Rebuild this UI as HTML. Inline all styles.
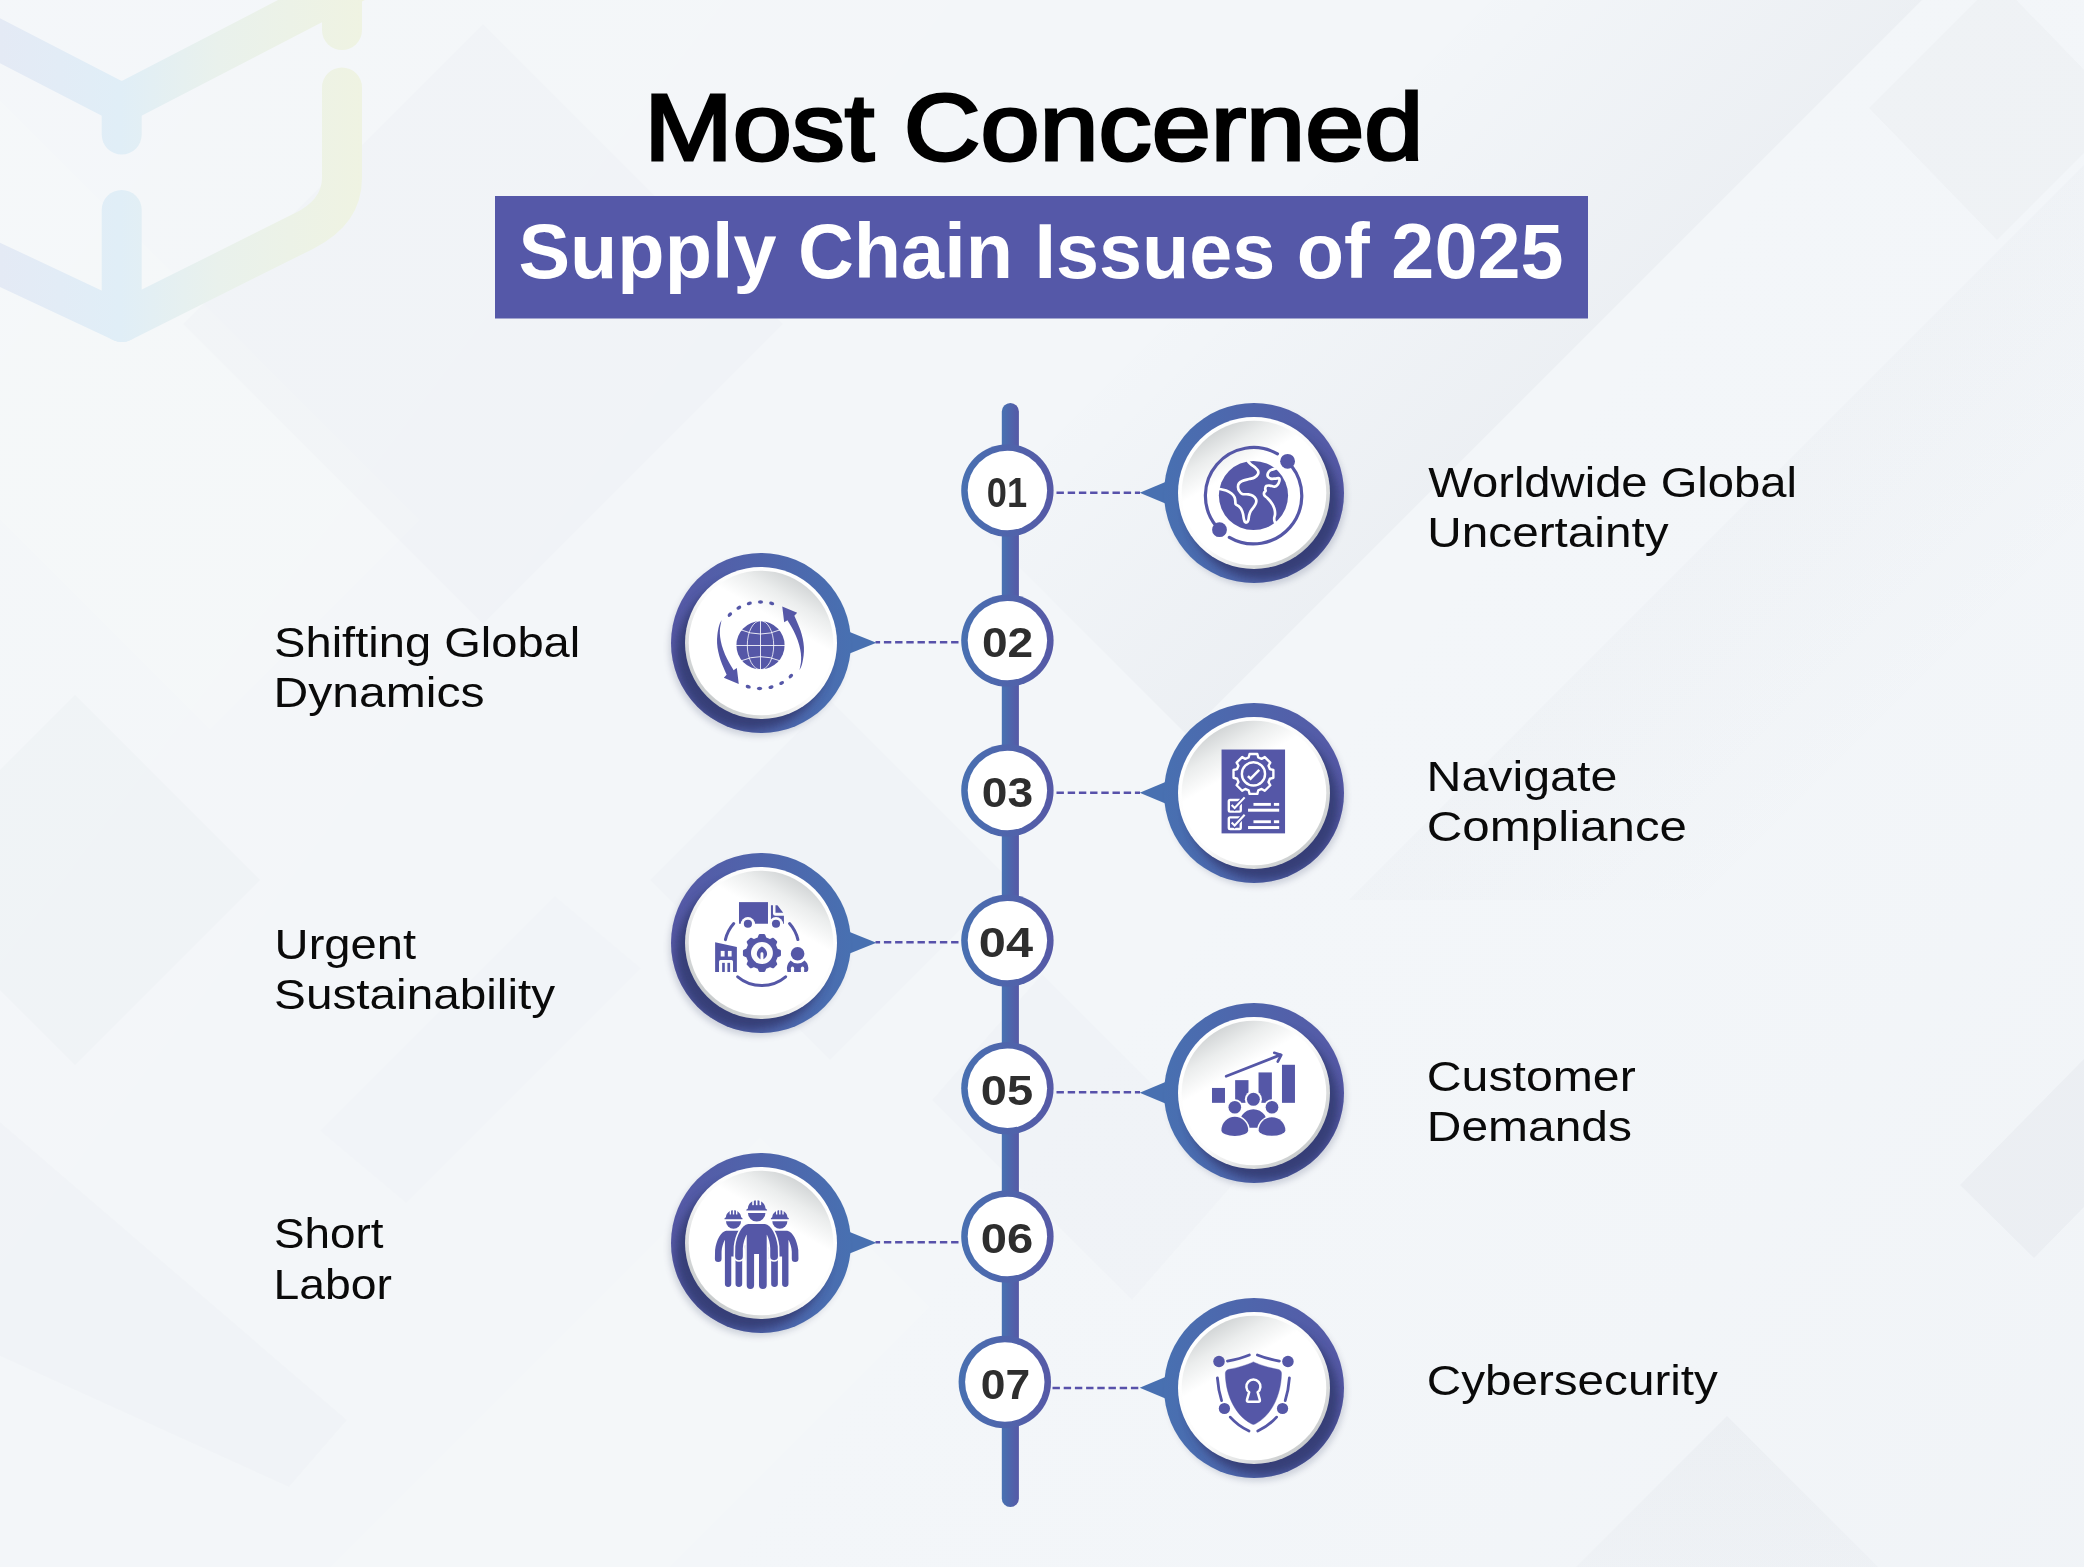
<!DOCTYPE html>
<html lang="en"><head><meta charset="utf-8">
<title>Most Concerned Supply Chain Issues of 2025</title>
<style>
html,body{margin:0;padding:0;}
body{width:2084px;height:1567px;overflow:hidden;background:#f3f6f9;font-family:"Liberation Sans",sans-serif;}
svg{display:block;position:absolute;left:0;top:0;will-change:transform;}
text{font-family:"Liberation Sans",sans-serif;}
.lbl{font-size:43px;fill:#0a0a0a;}
.num{font-size:42.6px;font-weight:bold;fill:#2e2e2e;}
</style></head><body>
<svg width="2084" height="1567" viewBox="0 0 2084 1567">
<defs>
<linearGradient id="gR" x1="0" y1="0" x2="1" y2="0"><stop offset="0" stop-color="#4870b1"/><stop offset="1" stop-color="#5659a6"/></linearGradient>
<linearGradient id="gL" x1="0" y1="0" x2="1" y2="0"><stop offset="0" stop-color="#5659a6"/><stop offset="1" stop-color="#4870b1"/></linearGradient>
<linearGradient id="gLine" x1="0" y1="0" x2="1" y2="0"><stop offset="0" stop-color="#4772b2"/><stop offset="1" stop-color="#5659a6"/></linearGradient>
<linearGradient id="rimR" x1="0.15" y1="0.15" x2="0.85" y2="0.85"><stop offset="0" stop-color="#ffffff"/><stop offset="0.55" stop-color="#fbfbfb"/><stop offset="1" stop-color="#c9cccd"/></linearGradient>
<linearGradient id="rimL" x1="0.85" y1="0.15" x2="0.15" y2="0.85"><stop offset="0" stop-color="#ffffff"/><stop offset="0.55" stop-color="#fbfbfb"/><stop offset="1" stop-color="#c9cccd"/></linearGradient>
<linearGradient id="faceR" x1="0.25" y1="0.067" x2="0.405" y2="0.335"><stop offset="0" stop-color="#d3d6d7"/><stop offset="0.45" stop-color="#ebeded"/><stop offset="1" stop-color="#ffffff"/></linearGradient>
<linearGradient id="faceL" x1="0.75" y1="0.067" x2="0.595" y2="0.335"><stop offset="0" stop-color="#d3d6d7"/><stop offset="0.45" stop-color="#ebeded"/><stop offset="1" stop-color="#ffffff"/></linearGradient>
<linearGradient id="wm" gradientUnits="userSpaceOnUse" x1="0" y1="0" x2="362" y2="0"><stop offset="0" stop-color="#e4eaf5"/><stop offset="0.33" stop-color="#e0eef7"/><stop offset="0.6" stop-color="#e9f1ec"/><stop offset="1" stop-color="#eff3e2"/></linearGradient>
<filter id="blur" x="-30%" y="-30%" width="160%" height="160%"><feGaussianBlur stdDeviation="5"/></filter>
<filter id="blurS" x="-30%" y="-30%" width="160%" height="160%"><feGaussianBlur stdDeviation="3"/></filter>
<filter id="soft" x="-10%" y="-10%" width="120%" height="120%"><feGaussianBlur stdDeviation="6"/></filter>
<clipPath id="clipO"><circle cx="0" cy="0" r="90"/></clipPath>
</defs>

<g id="bg">
<rect width="2084" height="1567" fill="#f3f6f9"/>
<defs>
<linearGradient id="bgA" gradientUnits="userSpaceOnUse" x1="1511" y1="411" x2="1281" y2="181"><stop offset="0" stop-color="#1c2a4a" stop-opacity="0.032"/><stop offset="1" stop-color="#1c2a4a" stop-opacity="0"/></linearGradient>
<linearGradient id="bgB" gradientUnits="userSpaceOnUse" x1="1790" y1="460" x2="1990" y2="660"><stop offset="0" stop-color="#1c2a4a" stop-opacity="0.016"/><stop offset="1" stop-color="#1c2a4a" stop-opacity="0"/></linearGradient>
<linearGradient id="bgC" gradientUnits="userSpaceOnUse" x1="1727" y1="1416" x2="1727" y2="1640"><stop offset="0" stop-color="#1c2a4a" stop-opacity="0.028"/><stop offset="1" stop-color="#1c2a4a" stop-opacity="0.01"/></linearGradient>
<linearGradient id="bgD" gradientUnits="userSpaceOnUse" x1="0" y1="0" x2="2084" y2="1567"><stop offset="0" stop-color="#ffffff" stop-opacity="0.10"/><stop offset="0.5" stop-color="#ffffff" stop-opacity="0"/><stop offset="1" stop-color="#1c2a4a" stop-opacity="0.012"/></linearGradient>
</defs>
<rect width="2084" height="1567" fill="url(#bgD)"/>
<polygon points="1922,0 1187,735 887,435 1322,0" fill="url(#bgA)"/>
<polygon points="2084,165 2084,900 1349,900" fill="url(#bgB)"/>
<polygon points="1960,1185 2084,1059 2084,1207 2034,1258" fill="#1c2a4a" fill-opacity="0.026"/>
<polygon points="1727,1416 1878,1567 1576,1567" fill="url(#bgC)"/>
<polygon points="-110,880 75,695 260,880 75,1065" fill="#1c2a4a" fill-opacity="0.015"/>
<polygon points="1042,974 1242,1174 1132,1300 932,1100" fill="#1c2a4a" fill-opacity="0.011"/>
<polygon points="830,700 1010,880 830,1060 650,880" fill="#1c2a4a" fill-opacity="0.011"/>
<polygon points="0,100 420,520 210,730 0,520" fill="#ffffff" fill-opacity="0.13"/>
<polygon points="330,1567 760,1137 930,1307 670,1567" fill="#ffffff" fill-opacity="0.12"/>
<polygon points="483,624 183,324 483,24 783,324" fill="#1c2a4a" fill-opacity="0.010"/>
<polygon points="0,1122 347,1420 289,1487 0,1356" fill="#1c2a4a" fill-opacity="0.010"/>
<polygon points="555,896 641,968 406,1203 320,1131" fill="#1c2a4a" fill-opacity="0.009"/>
<polygon points="1869,108 1997,240 2125,112 1997,-20" fill="#1c2a4a" fill-opacity="0.018"/>

</g>
<g id="wmark" fill="none" stroke="url(#wm)" stroke-width="40" stroke-linecap="round" stroke-linejoin="round">
<path d="M-40 20 L112 98.5 Q121.7 103.5 131.4 98.5 L360 -20"/>
<path d="M121.7 103 L121.7 134.5"/>
<path d="M121.7 210 L121.7 322"/>
<path d="M-40 246 L121.7 322 L304 231 Q342 212 342 178 L342 87.5"/>
<path d="M342 -30 L342 30"/>
</g>
<text font-size="94" fill="#000" stroke="#000" stroke-width="2.9" stroke-linejoin="miter" x="644.28" y="159.8" textLength="779.01" lengthAdjust="spacingAndGlyphs">Most Concerned</text>
<rect x="495" y="196" width="1093" height="122.5" fill="#5558a8"/>
<text font-size="78.5" font-weight="bold" fill="#fff" x="518.49" y="277.5" textLength="1045.03" lengthAdjust="spacingAndGlyphs">Supply Chain Issues of 2025</text>
<rect x="1001.8" y="403" width="17.1" height="1104" rx="8.55" fill="url(#gLine)"/>
<circle cx="1007.4" cy="490.45" r="46.2" fill="url(#gR)"/><circle cx="1007.4" cy="490.45" r="39.7" fill="#fff"/>
<text class="num" x="986.84" y="507.0" textLength="40.34" lengthAdjust="spacingAndGlyphs">01</text>
<circle cx="1007.4" cy="640.6" r="46.2" fill="url(#gR)"/><circle cx="1007.4" cy="640.6" r="39.7" fill="#fff"/>
<text class="num" x="981.91" y="657.0" textLength="51.29" lengthAdjust="spacingAndGlyphs">02</text>
<circle cx="1007.4" cy="790.45" r="46.2" fill="url(#gR)"/><circle cx="1007.4" cy="790.45" r="39.7" fill="#fff"/>
<text class="num" x="981.86" y="807.0" textLength="51.32" lengthAdjust="spacingAndGlyphs">03</text>
<circle cx="1007.4" cy="940.6" r="46.2" fill="url(#gR)"/><circle cx="1007.4" cy="940.6" r="39.7" fill="#fff"/>
<text class="num" x="978.84" y="957.0" textLength="54.21" lengthAdjust="spacingAndGlyphs">04</text>
<circle cx="1007.4" cy="1088.3" r="46.2" fill="url(#gR)"/><circle cx="1007.4" cy="1088.3" r="39.7" fill="#fff"/>
<text class="num" x="980.81" y="1105.2" textLength="52.34" lengthAdjust="spacingAndGlyphs">05</text>
<circle cx="1007.4" cy="1236.5" r="46.2" fill="url(#gR)"/><circle cx="1007.4" cy="1236.5" r="39.7" fill="#fff"/>
<text class="num" x="980.78" y="1253.0" textLength="52.44" lengthAdjust="spacingAndGlyphs">06</text>
<circle cx="1004.8" cy="1382" r="46.2" fill="url(#gR)"/><circle cx="1004.8" cy="1382" r="39.7" fill="#fff"/>
<text class="num" x="980.85" y="1399.0" textLength="49.39" lengthAdjust="spacingAndGlyphs">07</text>
<path d="M1056.5 492.8 H1140" stroke="#5751aa" stroke-width="2.5" stroke-dasharray="7.4 3.8" stroke-linecap="butt" fill="none"/>
<g transform="translate(1254 493)">
<path d="M-114.3 -0.2 L-88 -11.3 L-88 10.8 Z" fill="#4870b1"/>
<circle cx="3" cy="4.5" r="89" fill="#4b5275" opacity="0.22" filter="url(#blurS)"/>
<circle r="90" fill="url(#gR)"/>
<g clip-path="url(#clipO)"><circle cx="9" cy="11" r="76" fill="#363d74" opacity="0.95" filter="url(#blur)"/></g>
<circle r="76" fill="url(#rimR)"/>
<circle r="72.3" fill="url(#faceR)"/>
<g class="ic-globe">
<circle cx="-0.54" cy="2.5" r="34.6" fill="#5557a7"/>
<path d="M-34.35 -4.01 C-33.26 -3.76 -29.82 -3.25 -27.84 -2.48 C-25.86 -1.72 -23.88 -0.57 -22.48 0.58 C-21.07 1.73 -20.05 3.07 -19.41 4.41 C-18.78 5.75 -18.84 7.47 -18.65 8.62 C-18.46 9.77 -18.84 10.54 -18.26 11.3 C-17.69 12.07 -16.09 12.45 -15.2 13.22 C-14.31 13.98 -13.61 14.62 -12.9 15.9 C-12.2 17.17 -11.44 19.28 -10.99 20.88 C-10.54 22.47 -10.54 24.13 -10.22 25.47 C-9.9 26.81 -9.59 28.28 -9.07 28.92 C-8.56 29.56 -7.73 29.62 -7.16 29.3 C-6.59 28.98 -6.01 28.15 -5.63 27 C-5.25 25.85 -5.25 23.88 -4.86 22.41 C-4.48 20.94 -4.1 19.6 -3.33 18.2 C-2.57 16.79 -1.16 15.39 -0.27 13.98 C0.63 12.58 1.65 11.05 2.03 9.77 C2.41 8.5 2.54 7.47 2.03 6.33 C1.52 5.18 0.24 3.71 -1.03 2.88 C-2.31 2.05 -3.84 1.67 -5.63 1.35 C-7.42 1.03 -10.22 1.54 -11.76 0.96 C-13.29 0.39 -14.12 -0.95 -14.82 -2.1 C-15.52 -3.25 -15.9 -4.71 -15.97 -5.93 C-16.03 -7.14 -15.9 -8.35 -15.2 -9.37 C-14.5 -10.39 -13.48 -11.29 -11.76 -12.05 C-10.03 -12.82 -6.91 -13.39 -4.86 -13.97 C-2.82 -14.54 -0.97 -14.67 0.5 -15.5 C1.97 -16.33 3.37 -17.8 3.94 -18.95 C4.52 -20.09 4.39 -21.31 3.94 -22.39 C3.5 -23.48 2.41 -24.43 1.26 -25.46 C0.11 -26.48 -1.74 -27.5 -2.95 -28.52 C-4.16 -29.54 -5.5 -31.07 -6.01 -31.58" fill="none" stroke="#fff" stroke-width="2.7" stroke-linecap="round" stroke-linejoin="round"/>
<path d="M21.56 -24.46 C20.73 -24.18 17.86 -23.57 16.58 -22.78 C15.3 -21.98 14.35 -20.8 13.9 -19.71 C13.45 -18.63 13.45 -17.16 13.9 -16.27 C14.35 -15.37 15.37 -14.67 16.58 -14.35 C17.79 -14.03 19.77 -14.29 21.17 -14.35 C22.58 -14.42 24.3 -15.12 25 -14.73 C25.71 -14.35 25.64 -13.14 25.39 -12.05 C25.13 -10.97 24.3 -9.18 23.47 -8.22 C22.64 -7.27 21.69 -6.44 20.41 -6.31 C19.13 -6.18 17.15 -7.33 15.81 -7.46 C14.47 -7.59 13.13 -7.59 12.37 -7.08 C11.6 -6.57 11.35 -5.23 11.22 -4.4 C11.09 -3.57 11.79 -2.8 11.6 -2.1 C11.41 -1.4 10.26 -0.95 10.07 -0.18 C9.88 0.58 9.88 1.6 10.45 2.5 C11.03 3.39 12.5 4.16 13.52 5.18 C14.54 6.2 15.62 7.35 16.58 8.62 C17.54 9.9 18.56 11.37 19.26 12.84 C19.96 14.3 20.5 15.96 20.79 17.43 C21.09 18.9 21.11 20.43 21.02 21.64 C20.93 22.85 20.36 23.68 20.26 24.71 C20.15 25.73 20.23 26.87 20.41 27.77 C20.59 28.66 21.17 29.68 21.33 30.07" fill="none" stroke="#fff" stroke-width="2.7" stroke-linecap="round" stroke-linejoin="round"/>
<path d="M37.56 -26.97 A48.2 48.2 0 0 1 -24.67 44.36" fill="none" stroke="#5557a7" stroke-width="3.2" stroke-linecap="round"/>
<path d="M-37.88 33.03 A48.2 48.2 0 0 1 23.46 -39.17" fill="none" stroke="#5557a7" stroke-width="3.2" stroke-linecap="round"/>
<circle cx="33.6" cy="-31.7" r="7.4" fill="#5557a7"/><circle cx="-34.5" cy="36.7" r="7.4" fill="#5557a7"/>
</g>
</g>
<path d="M1056.5 792.7 H1140" stroke="#5751aa" stroke-width="2.5" stroke-dasharray="7.4 3.8" stroke-linecap="butt" fill="none"/>
<g transform="translate(1254 793)">
<path d="M-114.3 -0.2 L-88 -11.3 L-88 10.8 Z" fill="#4870b1"/>
<circle cx="3" cy="4.5" r="89" fill="#4b5275" opacity="0.22" filter="url(#blurS)"/>
<circle r="90" fill="url(#gR)"/>
<g clip-path="url(#clipO)"><circle cx="9" cy="11" r="76" fill="#363d74" opacity="0.95" filter="url(#blur)"/></g>
<circle r="76" fill="url(#rimR)"/>
<circle r="72.3" fill="url(#faceR)"/>
<g class="ic-doc">
<rect x="-32.45" y="-43.47" width="63.5" height="83.85" fill="#5557a7"/>
<path d="M-5.4 -35.49 L-4.42 -39.02 L3.33 -39.02 L4.31 -35.49 L7.62 -34.12 L10.81 -35.92 L16.29 -30.45 L14.49 -27.25 L15.85 -23.95 L19.38 -22.97 L19.38 -15.22 L15.85 -14.24 L14.49 -10.93 L16.29 -7.74 L10.81 -2.26 L7.62 -4.07 L4.31 -2.7 L3.33 0.83 L-4.42 0.83 L-5.4 -2.7 L-8.7 -4.07 L-11.89 -2.26 L-17.37 -7.74 L-15.57 -10.93 L-16.94 -14.24 L-20.47 -15.22 L-20.47 -22.97 L-16.94 -23.95 L-15.57 -27.25 L-17.37 -30.45 L-11.89 -35.92 L-8.7 -34.12 Z" fill="none" stroke="#fff" stroke-width="2.4" stroke-linejoin="round"/>
<circle cx="-0.54" cy="-19.09" r="11.6" fill="none" stroke="#fff" stroke-width="2.4"/>
<path d="M-6.09 -16.99 L-3.41 -14.31 L5.26 -23.11" fill="none" stroke="#fff" stroke-width="2.5"/>
<rect x="-25.18" y="7.01" width="11.93" height="11.61" rx="1.3" fill="none" stroke="#fff" stroke-width="2.4"/><path d="M-22.37 12.05 L-19.37 15.05 L-9.35 4.39" fill="none" stroke="#5557a7" stroke-width="4.6"/><path d="M-22.37 12.05 L-19.37 15.05 L-9.35 4.39" fill="none" stroke="#fff" stroke-width="2.1"/><rect x="-0.54" y="9.94" width="17.42" height="2.87" fill="#fff"/><rect x="19.88" y="9.94" width="5.3" height="2.87" fill="#fff"/><rect x="-5.97" y="15.69" width="31.14" height="3" fill="#fff"/>
<rect x="-25.18" y="24.37" width="11.93" height="11.61" rx="1.3" fill="none" stroke="#fff" stroke-width="2.4"/><path d="M-22.37 29.41 L-19.37 32.41 L-9.35 21.75" fill="none" stroke="#5557a7" stroke-width="4.6"/><path d="M-22.37 29.41 L-19.37 32.41 L-9.35 21.75" fill="none" stroke="#fff" stroke-width="2.1"/><rect x="-0.54" y="27.3" width="17.42" height="2.87" fill="#fff"/><rect x="19.88" y="27.3" width="5.3" height="2.87" fill="#fff"/><rect x="-5.97" y="33.04" width="31.14" height="3" fill="#fff"/>
</g>
</g>
<path d="M1056.5 1092.3 H1140" stroke="#5751aa" stroke-width="2.5" stroke-dasharray="7.4 3.8" stroke-linecap="butt" fill="none"/>
<g transform="translate(1254 1093)">
<path d="M-114.3 -0.2 L-88 -11.3 L-88 10.8 Z" fill="#4870b1"/>
<circle cx="3" cy="4.5" r="89" fill="#4b5275" opacity="0.22" filter="url(#blurS)"/>
<circle r="90" fill="url(#gR)"/>
<g clip-path="url(#clipO)"><circle cx="9" cy="11" r="76" fill="#363d74" opacity="0.95" filter="url(#blur)"/></g>
<circle r="76" fill="url(#rimR)"/>
<circle r="72.3" fill="url(#faceR)"/>
<g class="ic-chart">
<rect x="-42.01" y="-5.05" width="12.99" height="14.88" fill="#5557a7"/>
<rect x="-18.85" y="-12.85" width="13.34" height="22.67" fill="#5557a7"/>
<rect x="4.53" y="-20.57" width="13.34" height="30.4" fill="#5557a7"/>
<rect x="27.97" y="-28.22" width="12.99" height="38.05" fill="#5557a7"/>
<circle cx="-0.6" cy="6.32" r="8.56" fill="#fdfdfd"/>
<circle cx="-19.2" cy="14.25" r="8" fill="#fdfdfd"/>
<circle cx="18.01" cy="14.25" r="8" fill="#fdfdfd"/>
<path d="M-13.17 34.75 A13.55 13.55 0 1 1 11.97 34.75 Z" fill="#5557a7"/>
<path d="M-34.14 37.21 A14.94 14.94 0 0 1 -4.26 37.21 A14.94 7.36 0 0 1 -34.14 37.21 Z" fill="#fdfdfd"/>
<path d="M-32.54 37.21 A13.34 13.34 0 0 1 -5.86 37.21 A13.34 5.76 0 0 1 -32.54 37.21 Z" fill="#5557a7"/>
<path d="M3.07 37.21 A14.94 14.94 0 0 1 32.94 37.21 A14.94 7.36 0 0 1 3.07 37.21 Z" fill="#fdfdfd"/>
<path d="M4.67 37.21 A13.34 13.34 0 0 1 31.34 37.21 A13.34 5.76 0 0 1 4.67 37.21 Z" fill="#5557a7"/>
<circle cx="-0.6" cy="6.32" r="6.46" fill="#5557a7"/>
<circle cx="-19.2" cy="14.25" r="6.32" fill="#5557a7"/>
<circle cx="18.01" cy="14.25" r="6.32" fill="#5557a7"/>
<path d="M-27.83 -16.64 L26.43 -38.12" stroke="#5557a7" stroke-width="2.7" stroke-linecap="round" fill="none"/>
<path d="M20.25 -40.22 L27.27 -38.05 L23.76 -31.38" stroke="#5557a7" stroke-width="2.7" stroke-linecap="round" stroke-linejoin="round" fill="none"/>
</g>
</g>
<path d="M1052.5 1388 H1140" stroke="#5751aa" stroke-width="2.5" stroke-dasharray="7.4 3.8" stroke-linecap="butt" fill="none"/>
<g transform="translate(1254 1388)">
<path d="M-114.3 -0.2 L-88 -11.3 L-88 10.8 Z" fill="#4870b1"/>
<circle cx="3" cy="4.5" r="89" fill="#4b5275" opacity="0.22" filter="url(#blurS)"/>
<circle r="90" fill="url(#gR)"/>
<g clip-path="url(#clipO)"><circle cx="9" cy="11" r="76" fill="#363d74" opacity="0.95" filter="url(#blur)"/></g>
<circle r="76" fill="url(#rimR)"/>
<circle r="72.3" fill="url(#faceR)"/>
<g class="ic-shield">
<g transform="scale(0.07020) translate(-783.5 -755)"><path d="M775 383 C700 420 560 465 432 488 Q375 498 375 548 C378 800 480 1120 745 1265 Q775 1283 805 1265 C1070 1120 1172 800 1175 548 Q1175 498 1118 488 C990 465 850 420 775 383 Z" fill="#5557a7" stroke="#5557a7" stroke-width="6" stroke-linejoin="round"/><path d="M714.8 814.9 A100 100 0 1 1 835.2 814.9 L866 922 Q873 950 846 950 L704 950 Q677 950 684 922 Z" fill="none" stroke="#fff" stroke-width="36" stroke-linejoin="round"/><circle cx="285" cy="378" r="82" fill="#5557a7"/><circle cx="1267" cy="378" r="82" fill="#5557a7"/><circle cx="362" cy="1047" r="80" fill="#5557a7"/><circle cx="1190" cy="1047" r="80" fill="#5557a7"/><path d="M405 372 Q585 338 718 284" fill="none" stroke="#5557a7" stroke-width="40" stroke-linecap="round"/><path d="M 1145 372 Q 965 338 832 284" fill="none" stroke="#5557a7" stroke-width="40" stroke-linecap="round"/><path d="M262 612 Q275 790 322 935" fill="none" stroke="#5557a7" stroke-width="40" stroke-linecap="round"/><path d="M 1288 612 Q 1275 790 1228 935" fill="none" stroke="#5557a7" stroke-width="40" stroke-linecap="round"/><path d="M445 1170 Q560 1298 713 1368" fill="none" stroke="#5557a7" stroke-width="40" stroke-linecap="round"/><path d="M 1105 1170 Q 990 1298 837 1368" fill="none" stroke="#5557a7" stroke-width="40" stroke-linecap="round"/></g>
</g>
</g>
<path d="M958.5 642.3 H875.5" stroke="#5751aa" stroke-width="2.5" stroke-dasharray="7.4 3.8" fill="none"/>
<g transform="translate(761 643)">
<path d="M115.4 -0.2 L88 -11.3 L88 10.8 Z" fill="#4870b1"/>
<circle cx="-3" cy="4.5" r="89" fill="#4b5275" opacity="0.22" filter="url(#blurS)"/>
<circle r="90" fill="url(#gL)"/>
<g clip-path="url(#clipO)"><circle cx="-9" cy="11" r="76" fill="#363d74" opacity="0.95" filter="url(#blur)"/></g>
<circle r="76" fill="url(#rimL)"/>
<circle r="72.3" fill="url(#faceL)"/>
<g class="ic-cycle">
<circle cx="-0.5" cy="2.19" r="24.1" fill="#5557a7"/>
<ellipse cx="-0.5" cy="2.19" rx="13.2" ry="24.5" fill="none" stroke="#fff" stroke-width="0.8"/>
<path d="M-0.5 -22.91 V27.29 M-25.6 2.49 H24.6 M-20.18 -13.2 Q-0.5 -4.78 19.26 -13.2 M-19.8 17.81 Q-0.5 9.54 18.88 17.81" fill="none" stroke="#fff" stroke-width="0.85"/>
<path d="M-39.48 -22.93 C-39.87 -22.01 -41.16 -19.87 -41.85 -17.41 C-42.54 -14.96 -43.27 -11.16 -43.61 -8.22 C-43.96 -5.29 -44.06 -2.61 -43.92 0.2 C-43.78 3.01 -43.35 5.82 -42.77 8.62 C-42.2 11.43 -41.37 14.37 -40.47 17.05 C-39.58 19.73 -38.43 22.25 -37.41 24.71 C-36.39 27.16 -34.86 30.58 -34.35 31.75 L-37.18 34.66 L-22.25 40.94 L-24.16 25.09 L-27.45 27.16 C-28.16 25.98 -30.26 22.69 -31.67 20.11 C-33.07 17.53 -34.63 14.62 -35.88 11.69 C-37.13 8.75 -38.34 5.43 -39.17 2.5 C-40 -0.44 -40.54 -3.25 -40.86 -5.93 C-41.18 -8.61 -41.24 -11.16 -41.09 -13.59 C-40.93 -16.01 -40.13 -19.33 -39.94 -20.48 Z" fill="#5557a7"/>
<path d="M38.48 27.31 C38.88 26.39 40.17 24.25 40.86 21.8 C41.55 19.34 42.27 15.54 42.62 12.61 C42.96 9.67 43.06 6.99 42.92 4.18 C42.78 1.37 42.35 -1.43 41.78 -4.24 C41.2 -7.05 40.37 -9.99 39.48 -12.67 C38.58 -15.35 37.44 -17.87 36.41 -20.32 C35.39 -22.78 33.86 -26.2 33.35 -27.37 L36.18 -30.28 L21.25 -36.56 L23.17 -20.71 L26.46 -22.78 C27.16 -21.6 29.27 -18.31 30.67 -15.73 C32.07 -13.15 33.63 -10.24 34.88 -7.31 C36.13 -4.37 37.35 -1.05 38.18 1.88 C39.01 4.82 39.54 7.63 39.86 10.31 C40.18 12.99 40.24 15.54 40.09 17.97 C39.94 20.39 39.13 23.71 38.94 24.86 Z" fill="#5557a7"/>
<ellipse cx="-31.12" cy="-28.43" rx="2.6" ry="1.75" fill="#5557a7" transform="rotate(-45 -31.12 -28.43)"/>
<ellipse cx="-22.15" cy="-35.31" rx="2.6" ry="1.75" fill="#5557a7" transform="rotate(-30 -22.15 -35.31)"/>
<ellipse cx="-11.7" cy="-39.63" rx="2.6" ry="1.75" fill="#5557a7" transform="rotate(-15 -11.7 -39.63)"/>
<ellipse cx="-0.5" cy="-41.11" rx="2.6" ry="1.75" fill="#5557a7" transform="rotate(0 -0.5 -41.11)"/>
<ellipse cx="10.71" cy="-39.63" rx="2.6" ry="1.75" fill="#5557a7" transform="rotate(15 10.71 -39.63)"/>
<ellipse cx="29.85" cy="33.07" rx="2.6" ry="1.75" fill="#5557a7" transform="rotate(135.5 29.85 33.07)"/>
<ellipse cx="20.63" cy="39.99" rx="2.6" ry="1.75" fill="#5557a7" transform="rotate(150.8 20.63 39.99)"/>
<ellipse cx="9.98" cy="44.2" rx="2.6" ry="1.75" fill="#5557a7" transform="rotate(166 9.98 44.2)"/>
<ellipse cx="-1.48" cy="45.48" rx="2.6" ry="1.75" fill="#5557a7" transform="rotate(181.3 -1.48 45.48)"/>
<ellipse cx="-12.8" cy="43.71" rx="2.6" ry="1.75" fill="#5557a7" transform="rotate(196.5 -12.8 43.71)"/>
</g>
</g>
<path d="M958.5 942.3 H875.5" stroke="#5751aa" stroke-width="2.5" stroke-dasharray="7.4 3.8" fill="none"/>
<g transform="translate(761 943)">
<path d="M115.4 -0.2 L88 -11.3 L88 10.8 Z" fill="#4870b1"/>
<circle cx="-3" cy="4.5" r="89" fill="#4b5275" opacity="0.22" filter="url(#blurS)"/>
<circle r="90" fill="url(#gL)"/>
<g clip-path="url(#clipO)"><circle cx="-9" cy="11" r="76" fill="#363d74" opacity="0.95" filter="url(#blur)"/></g>
<circle r="76" fill="url(#rimL)"/>
<circle r="72.3" fill="url(#faceL)"/>
<g class="ic-supply">
<rect x="-22.01" y="-40.88" width="28.99" height="21.62" fill="#5557a7"/>
<path d="M9.93 -37.72 L11.97 -37.72 L11.97 -29.51 Q12.11 -27.26 14.5 -27.19 L22.92 -27.19 L22.92 -19.26 L9.93 -19.26 Z" fill="#5557a7"/>
<path d="M14.5 -37.72 L16.46 -37.72 L22.22 -30.21 L14.5 -30.21 Z" fill="#5557a7"/>
<path d="M-20.25 -18.72 A7.16 7.16 0 0 1 -5.93 -18.72 Z" fill="#fcfcfc"/>
<circle cx="-13.09" cy="-19.26" r="4.07" fill="#5557a7"/>
<path d="M7.83 -18.72 A7.16 7.16 0 0 1 22.15 -18.72 Z" fill="#fcfcfc"/>
<circle cx="14.99" cy="-19.26" r="4.07" fill="#5557a7"/>
<path d="M-35.59 -3.39 A37.28 37.28 0 0 1 -27.25 -19.46" fill="none" stroke="#5557a7" stroke-width="3" stroke-linecap="round"/>
<path d="M28.54 -19.5 A37.28 37.28 0 0 1 36.91 -3.46" fill="none" stroke="#5557a7" stroke-width="3" stroke-linecap="round"/>
<path d="M24.63 33.8 A37.28 37.28 0 0 1 -23.29 33.8" fill="none" stroke="#5557a7" stroke-width="3" stroke-linecap="round"/>
<path d="M-45.88 -0.86 L-24.11 4.05 L-24.11 28.97 L-45.88 28.97 Z" fill="#5557a7"/>
<rect x="-40.26" y="7.91" width="3.86" height="5.62" fill="#fcfcfc"/>
<rect x="-33.1" y="7.91" width="3.72" height="5.62" fill="#fcfcfc"/>
<path d="M-42.01 29.32 V18.64 Q-42.01 17.04 -40.41 17.04 H-29.57 Q-27.97 17.04 -27.97 18.64 V29.32 Z" fill="#fcfcfc"/>
<rect x="-38.86" y="19.85" width="2.67" height="9.13" fill="#5557a7"/>
<rect x="-33.59" y="19.85" width="2.67" height="9.13" fill="#5557a7"/>
<path d="M-2.3 -4.65 L-1.07 -7.7 L2.97 -7.7 L4.2 -4.65 L9.02 -2.65 L12.05 -3.94 L14.9 -1.08 L13.62 1.95 L15.61 6.77 L18.66 8 L18.66 12.04 L15.61 13.27 L13.62 18.09 L14.9 21.12 L12.05 23.97 L9.02 22.69 L4.2 24.68 L2.97 27.73 L-1.07 27.73 L-2.3 24.68 L-7.12 22.69 L-10.15 23.97 L-13.01 21.12 L-11.72 18.09 L-13.72 13.27 L-16.77 12.04 L-16.77 8 L-13.72 6.77 L-11.72 1.95 L-13.01 -1.08 L-10.15 -3.94 L-7.12 -2.65 Z" fill="#5557a7" stroke="#5557a7" stroke-width="2.6" stroke-linejoin="round"/>
<circle cx="0.95" cy="10.02" r="10.95" fill="#fcfcfc"/>
<path d="M0.95 3.56 C1.43 3.9 3.04 4.75 3.83 5.59 C4.61 6.44 5.29 7.61 5.65 8.61 C6.01 9.62 6.14 10.7 6 11.63 C5.86 12.57 5.41 13.47 4.81 14.23 C4.21 14.99 2.82 15.87 2.42 16.2 L2.42 10.72 A1.47 1.47 0 0 0 -0.53 10.72 L-0.53 16.2 C-0.92 15.87 -2.32 14.99 -2.91 14.23 C-3.51 13.47 -3.97 12.57 -4.11 11.63 C-4.25 10.7 -4.12 9.62 -3.76 8.61 C-3.39 7.61 -2.71 6.44 -1.93 5.59 C-1.15 4.75 0.47 3.9 0.95 3.56 Z" fill="#5557a7"/>
<circle cx="36.61" cy="10.72" r="6.81" fill="#5557a7"/>
<path d="M26.43 28.97 C26.35 28.21 25.8 25.85 25.94 24.41 C26.08 22.97 26.66 21.51 27.27 20.34 C27.88 19.17 29.2 17.88 29.59 17.39 A9.62 9.62 0 0 0 43.63 17.39 L43.63 17.39 C44.04 17.88 45.48 19.17 46.09 20.34 C46.69 21.51 47.14 23.17 47.28 24.41 C47.42 25.65 47.22 27.02 46.93 27.78 C46.64 28.54 45.76 28.77 45.52 28.97 L26.43 28.97 Z" fill="#5557a7"/>
<path d="M29.94 29.46 V25.15 A1.58 1.58 0 0 1 33.1 25.15 V29.46 Z" fill="#fcfcfc"/>
<path d="M39.91 29.46 V25.18 A1.61 1.61 0 0 1 43.14 25.18 V29.46 Z" fill="#fcfcfc"/>
</g>
</g>
<path d="M958.5 1242.3 H875.5" stroke="#5751aa" stroke-width="2.5" stroke-dasharray="7.4 3.8" fill="none"/>
<g transform="translate(761 1243)">
<path d="M115.4 -0.2 L88 -11.3 L88 10.8 Z" fill="#4870b1"/>
<circle cx="-3" cy="4.5" r="89" fill="#4b5275" opacity="0.22" filter="url(#blurS)"/>
<circle r="90" fill="url(#gL)"/>
<g clip-path="url(#clipO)"><circle cx="-9" cy="11" r="76" fill="#363d74" opacity="0.95" filter="url(#blur)"/></g>
<circle r="76" fill="url(#rimL)"/>
<circle r="72.3" fill="url(#faceL)"/>
<g class="ic-workers">
<g transform="scale(0.07020) translate(-783.5 -755) translate(-231.8 162) scale(0.864)"><path d="M600 485 L840 485 C930 500 1000 640 1022 800 L1025 945 A55 55 0 0 1 915 945 L915 830 C912 760 895 690 868 638 L865 640 L865 1358 A55 52 0 0 1 755 1358 L755 910 L685 910 L685 1358 A52.5 52 0 0 1 580 1358 L580 640 L577 638 C552 690 528 760 525 830 L525 945 A55 55 0 0 1 415 945 L418 800 C440 640 510 500 600 485 Z" fill="#5557a7"/><path d="M574 293 L574 280 L597 262 C602 190 660 146 722 146 C784 146 842 190 848 262 L870 280 L870 293 Z" fill="#5557a7"/><rect x="658.5" y="138" width="23" height="78" fill="#fdfdfd"/><rect x="710.5" y="138" width="23" height="78" fill="#fdfdfd"/><rect x="762.5" y="138" width="23" height="78" fill="#fdfdfd"/><path d="M597.5 326 L846.5 326 A124.5 124.5 0 0 1 597.5 326 Z" fill="#5557a7"/></g>
<g transform="scale(0.07020) translate(-783.5 -755) translate(1444 0) scale(-1 1) translate(-231.8 162) scale(0.864)"><path d="M600 485 L840 485 C930 500 1000 640 1022 800 L1025 945 A55 55 0 0 1 915 945 L915 830 C912 760 895 690 868 638 L865 640 L865 1358 A55 52 0 0 1 755 1358 L755 910 L685 910 L685 1358 A52.5 52 0 0 1 580 1358 L580 640 L577 638 C552 690 528 760 525 830 L525 945 A55 55 0 0 1 415 945 L418 800 C440 640 510 500 600 485 Z" fill="#5557a7"/><path d="M574 293 L574 280 L597 262 C602 190 660 146 722 146 C784 146 842 190 848 262 L870 280 L870 293 Z" fill="#5557a7"/><rect x="658.5" y="138" width="23" height="78" fill="#fdfdfd"/><rect x="710.5" y="138" width="23" height="78" fill="#fdfdfd"/><rect x="762.5" y="138" width="23" height="78" fill="#fdfdfd"/><path d="M597.5 326 L846.5 326 A124.5 124.5 0 0 1 597.5 326 Z" fill="#5557a7"/></g>
<g transform="scale(0.07020) translate(-783.5 -755)"><path d="M600 485 L840 485 C930 500 1000 640 1022 800 L1025 945 A55 55 0 0 1 915 945 L915 830 C912 760 895 690 868 638 L865 640 L865 1358 A55 52 0 0 1 755 1358 L755 910 L685 910 L685 1358 A52.5 52 0 0 1 580 1358 L580 640 L577 638 C552 690 528 760 525 830 L525 945 A55 55 0 0 1 415 945 L418 800 C440 640 510 500 600 485 Z" fill="#fdfdfd" stroke="#fdfdfd" stroke-width="46" stroke-linejoin="round"/><path d="M600 485 L840 485 C930 500 1000 640 1022 800 L1025 945 A55 55 0 0 1 915 945 L915 830 C912 760 895 690 868 638 L865 640 L865 1358 A55 52 0 0 1 755 1358 L755 910 L685 910 L685 1358 A52.5 52 0 0 1 580 1358 L580 640 L577 638 C552 690 528 760 525 830 L525 945 A55 55 0 0 1 415 945 L418 800 C440 640 510 500 600 485 Z" fill="#5557a7"/><path d="M574 293 L574 280 L597 262 C602 190 660 146 722 146 C784 146 842 190 848 262 L870 280 L870 293 Z" fill="#5557a7"/><rect x="658.5" y="138" width="23" height="78" fill="#fdfdfd"/><rect x="710.5" y="138" width="23" height="78" fill="#fdfdfd"/><rect x="762.5" y="138" width="23" height="78" fill="#fdfdfd"/><path d="M597.5 326 L846.5 326 A124.5 124.5 0 0 1 597.5 326 Z" fill="#5557a7"/></g>
</g>
</g>
<text class="lbl" x="1428.30" y="496.9" textLength="368.73" lengthAdjust="spacingAndGlyphs">Worldwide Global</text>
<text class="lbl" x="1427.35" y="546.6" textLength="241.16" lengthAdjust="spacingAndGlyphs">Uncertainty</text>
<text class="lbl" x="1426.48" y="791.0" textLength="190.81" lengthAdjust="spacingAndGlyphs">Navigate</text>
<text class="lbl" x="1426.74" y="841.3" textLength="260.21" lengthAdjust="spacingAndGlyphs">Compliance</text>
<text class="lbl" x="1426.75" y="1090.9" textLength="208.97" lengthAdjust="spacingAndGlyphs">Customer</text>
<text class="lbl" x="1426.86" y="1140.9" textLength="205.08" lengthAdjust="spacingAndGlyphs">Demands</text>
<text class="lbl" x="1426.77" y="1394.8" textLength="291.14" lengthAdjust="spacingAndGlyphs">Cybersecurity</text>
<text class="lbl" x="274.05" y="656.9" textLength="306.22" lengthAdjust="spacingAndGlyphs">Shifting Global</text>
<text class="lbl" x="273.58" y="707.2" textLength="211.05" lengthAdjust="spacingAndGlyphs">Dynamics</text>
<text class="lbl" x="274.61" y="958.5" textLength="141.49" lengthAdjust="spacingAndGlyphs">Urgent</text>
<text class="lbl" x="274.07" y="1008.7" textLength="281.14" lengthAdjust="spacingAndGlyphs">Sustainability</text>
<text class="lbl" x="274.03" y="1247.7" textLength="109.50" lengthAdjust="spacingAndGlyphs">Short</text>
<text class="lbl" x="273.56" y="1298.6" textLength="118.37" lengthAdjust="spacingAndGlyphs">Labor</text>
</svg>
</body></html>
